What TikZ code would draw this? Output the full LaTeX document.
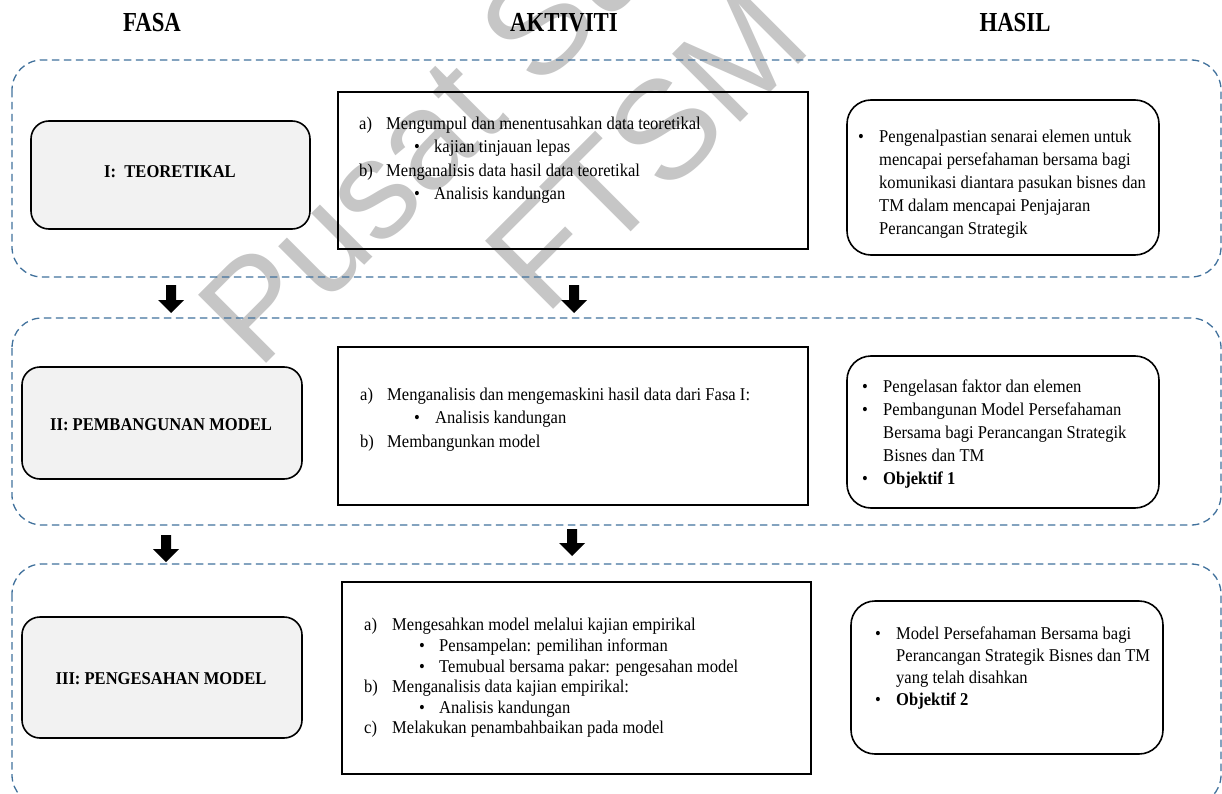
\documentclass[tikz,border=0pt]{standalone}
\usepackage{fontspec}
\setmainfont{Liberation Serif}[FakeStretch=0.92]
\setsansfont{Liberation Sans}
\definecolor{dashblue}{RGB}{65,113,156}
\definecolor{phasegray}{RGB}{242,242,242}
\definecolor{wmgray}{RGB}{198,198,198}
\newcommand\downblock[3]{%
  \fill (#1-5,#2) -- (#1+5,#2) -- (#1+5,#3-13) -- (#1+13,#3-13) -- (#1,#3) -- (#1-13,#3-13) -- (#1-5,#3-13) -- cycle;}
\newcommand\hdrtext[1]{\scalebox{0.9}[1]{#1}}
\begin{document}
\begin{tikzpicture}[x=1pt,y=-1pt,
  panel/.style={draw=dashblue, dash pattern=on 7.5pt off 4.5pt, line width=1.3pt, rounded corners=30pt},
  phasebox/.style={draw=black, line width=1.6pt, fill=phasegray, rounded corners=18pt, inner sep=0},
  actbox/.style={draw=black, line width=1.6pt, inner sep=0},
  resbox/.style={draw=black, line width=1.6pt, rounded corners=24pt, inner sep=0},
  body/.style={font=\fontsize{18}{23}\selectfont, anchor=base west, inner sep=0},
  bul/.style={font=\fontsize{18}{23}\selectfont, anchor=base, inner sep=0},
  lbl/.style={font=\bfseries\fontsize{18}{22}\selectfont, anchor=base, inner sep=0},
  hdr/.style={font=\bfseries\fontsize{27.5}{30}\selectfont, anchor=base, inner sep=0},
  wm/.style={font=\sffamily\fontsize{140}{140}\selectfont, text=wmgray, anchor=base west, rotate=45, inner sep=0}]
\useasboundingbox (0,0) rectangle (1222,794);
\clip (0,0) rectangle (1222,794);

% watermark
\node[wm] (wm1) at (258,372) {Pusat Sumber};
\node[wm] (wm2) at (545,318) {FTSM};

% headers
\node[hdr] (h1) at (152,32) {\hdrtext{FASA}};
\node[hdr] (h2) at (564,32) {\hdrtext{AKTIVITI}};
\node[hdr] (h3) at (1015,32) {\hdrtext{HASIL}};

% dashed panels
\draw[panel] (12,60) rectangle (1221,277);
\draw[panel] (12,318) rectangle (1221,525);
\draw[panel] (12,564) rectangle (1221,805);

% arrows
\downblock{171}{285}{313}
\downblock{574}{285}{313}
\downblock{166}{535}{562}
\downblock{572}{529}{556}

% phase boxes
\node[phasebox, minimum width=279pt, minimum height=108pt] (p1) at (170.5,175) {};
\node[lbl] (p1t) at (170,178) {I:\ \ TEORETIKAL};
\node[phasebox, minimum width=280pt, minimum height=112pt] (p2) at (162,423) {};
\node[lbl] (p2t) at (161,430) {II: PEMBANGUNAN MODEL};
\node[phasebox, minimum width=280pt, minimum height=121pt] (p3) at (162,677.5) {};
\node[lbl] (p3t) at (161,684) {III: PENGESAHAN MODEL};

% activity boxes
\node[actbox, minimum width=470pt, minimum height=157pt] (a1) at (573,170.5) {};
\node[body] (a1a) at (359,130) {a)};
\node[body] (a1at) at (386,130) {Mengumpul dan menentusahkan data teoretikal};
\node[bul] (a1b1) at (417,153) {•};
\node[body] (a1b1t) at (434,153) {kajian tinjauan lepas};
\node[body] (a1b) at (359,176.5) {b)};
\node[body] (a1bt) at (386,176.5) {Menganalisis data hasil data teoretikal};
\node[bul] (a1b2) at (417,200) {•};
\node[body] (a1b2t) at (434,200) {Analisis kandungan};

\node[actbox, minimum width=470pt, minimum height=158pt] (a2) at (573,426) {};
\node[body] (a2a) at (360,400) {a)};
\node[body] (a2at) at (387,400) {Menganalisis dan mengemaskini hasil data dari Fasa I:};
\node[bul] (a2b1) at (417,423.5) {•};
\node[body] (a2b1t) at (435,423.5) {Analisis kandungan};
\node[body] (a2b) at (360,447) {b)};
\node[body] (a2bt) at (387,447) {Membangunkan model};

\node[actbox, minimum width=469pt, minimum height=192pt] (a3) at (576.5,678) {};
\node[body] (a3a) at (364,630) {a)};
\node[body] (a3at) at (392,630) {Mengesahkan model melalui kajian empirikal};
\node[bul] (a3b1) at (422,651) {•};
\node[body] (a3b1t) at (439,651) {Pensampelan: pemilihan informan};
\node[bul] (a3b2) at (422,672) {•};
\node[body] (a3b2t) at (439,672) {Temubual bersama pakar: pengesahan model};
\node[body] (a3b) at (364,692.5) {b)};
\node[body] (a3bt) at (392,692.5) {Menganalisis data kajian empirikal:};
\node[bul] (a3b3) at (422,713) {•};
\node[body] (a3b3t) at (439,713) {Analisis kandungan};
\node[body] (a3c) at (364,733.5) {c)};
\node[body] (a3ct) at (392,733.5) {Melakukan penambahbaikan pada model};

% result boxes
\node[resbox, minimum width=312pt, minimum height=155pt] (r1) at (1003,177.5) {};
\node[bul] (r1b) at (861,143) {•};
\node[body] (r1l1) at (879,143) {Pengenalpastian senarai elemen untuk};
\node[body] (r1l2) at (879,165.8) {mencapai persefahaman bersama bagi};
\node[body] (r1l3) at (879,188.6) {komunikasi diantara pasukan bisnes dan};
\node[body] (r1l4) at (879,211.4) {TM dalam mencapai Penjajaran};
\node[body] (r1l5) at (879,234.2) {Perancangan Strategik};

\node[resbox, minimum width=312pt, minimum height=152pt] (r2) at (1003,432) {};
\node[bul] (r2b1) at (865,392) {•};
\node[body] (r2l1) at (883,392) {Pengelasan faktor dan elemen};
\node[bul] (r2b2) at (865,415) {•};
\node[body] (r2l2) at (883,415) {Pembangunan Model Persefahaman};
\node[body] (r2l3) at (883,438) {Bersama bagi Perancangan Strategik};
\node[body] (r2l4) at (883,461) {Bisnes dan TM};
\node[bul] (r2b3) at (865,484) {•};
\node[body] (r2l5) at (883,484) {\bfseries Objektif 1};

\node[resbox, minimum width=312pt, minimum height=153pt] (r3) at (1007,677.5) {};
\node[bul] (r3b1) at (878,639) {•};
\node[body] (r3l1) at (896,639) {Model Persefahaman Bersama bagi};
\node[body] (r3l2) at (896,661) {Perancangan Strategik Bisnes dan TM};
\node[body] (r3l3) at (896,683) {yang telah disahkan};
\node[bul] (r3b2) at (878,705) {•};
\node[body] (r3l4) at (896,705) {\bfseries Objektif 2};
\end{tikzpicture}
\end{document}
